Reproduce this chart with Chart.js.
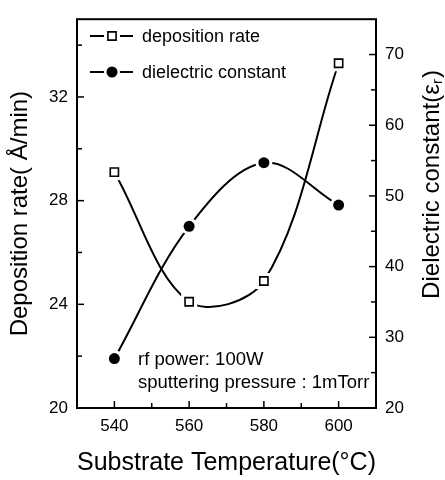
<!DOCTYPE html>
<html>
<head>
<meta charset="utf-8">
<script src="https://cdn.jsdelivr.net/npm/chart.js@4.4.0/dist/chart.umd.min.js"></script>
<style>
html, body { margin: 0; padding: 0; background: #fff; }
#wrap { width: 445px; height: 480px; }
</style>
</head>
<body>
<div id="wrap"><canvas id="chart" width="445" height="480"></canvas></div>
<script>
// values
const temperatures = [540, 560, 580, 600];
const depositionRate = [29.1, 24.1, 24.9, 33.3];
const dielectricConstant = [27.0, 45.7, 54.7, 48.7];

const xTicks = [540, 560, 580, 600];
const xMinor = [550, 570, 590];
const leftTicks = [20, 24, 28, 32];
const leftMinor = [22, 26, 30, 34];
const rightTicks = [20, 30, 40, 50, 60, 70];
const rightMinor = [25, 35, 45, 55, 65];

const seriesNames = ['deposition rate', 'dielectric constant'];
const notes = ['rf power: 100W', 'sputtering pressure : 1mTorr'];

const FONT = "'Liberation Sans', Arial, sans-serif";

const decorations = {
	id: 'decorations',
	afterDatasetsDraw(chart) {
		const ctx = chart.ctx;
		// white gap around each marker, then redraw the marker on top
		chart.data.datasets.forEach((ds, i) => {
			const meta = chart.getDatasetMeta(i);
			meta.data.forEach(pt => {
				ctx.save();
				ctx.fillStyle = '#fff';
				ctx.beginPath();
				if (ds.pointStyle === 'rect') {
					ctx.rect(pt.x - 8, pt.y - 8, 16, 16);
				} else {
					ctx.arc(pt.x, pt.y, 8.5, 0, Math.PI * 2);
				}
				ctx.fill();
				ctx.restore();
				pt.draw(ctx, chart.chartArea);
			});
		});
	},
	afterDraw(chart) {
		const ctx = chart.ctx;
		const a = chart.chartArea;
		const sx = chart.scales.x, sy = chart.scales.y, sy1 = chart.scales.y1;
		ctx.save();
		ctx.strokeStyle = '#000';
		ctx.lineWidth = 2;
		ctx.strokeRect(a.left, a.top, a.right - a.left, a.bottom - a.top);

		ctx.lineWidth = 1.5;
		const seg = (x1, y1, x2, y2) => {
			ctx.beginPath(); ctx.moveTo(x1, y1); ctx.lineTo(x2, y2); ctx.stroke();
		};
		xTicks.forEach(v => { const p = sx.getPixelForValue(v); seg(p, a.bottom, p, a.bottom - 7); });
		xMinor.forEach(v => { const p = sx.getPixelForValue(v); seg(p, a.bottom, p, a.bottom - 5); });
		leftTicks.forEach(v => { const p = sy.getPixelForValue(v); seg(a.left, p, a.left + 7, p); });
		leftMinor.forEach(v => { const p = sy.getPixelForValue(v); seg(a.left, p, a.left + 5, p); });
		rightTicks.forEach(v => { const p = sy1.getPixelForValue(v); seg(a.right, p, a.right - 7, p); });
		rightMinor.forEach(v => { const p = sy1.getPixelForValue(v); seg(a.right, p, a.right - 5, p); });

		// legend: line - marker - line
		const rows = [36, 72];
		chart.data.datasets.forEach((ds, i) => {
			const y = rows[i];
			ctx.lineWidth = 2;
			seg(90, y, 133, y);
			ctx.fillStyle = '#fff';
			ctx.beginPath();
			if (ds.pointStyle === 'rect') ctx.rect(104, y - 8, 16, 16);
			else ctx.arc(112, y, 8, 0, Math.PI * 2);
			ctx.fill();
			ctx.fillStyle = ds.pointBackgroundColor;
			ctx.strokeStyle = ds.pointBorderColor;
			ctx.lineWidth = ds.pointBorderWidth;
			Chart.helpers.drawPoint(ctx, {pointStyle: ds.pointStyle, radius: ds.pointRadius, rotation: 0, borderWidth: ds.pointBorderWidth}, 112, y);
			ctx.strokeStyle = '#000';
			ctx.fillStyle = '#000';
			ctx.font = '18px ' + FONT;
			ctx.textBaseline = 'middle';
			ctx.textAlign = 'left';
			ctx.fillText(seriesNames[i], 142, y + 1);
		});

		// process notes
		ctx.font = '18.5px ' + FONT;
		ctx.fillText(notes[0], 138, 360);
		ctx.fillText(notes[1], 138, 383);

		// right axis title with subscript
		ctx.translate(432, 185);
		ctx.rotate(-Math.PI / 2);
		const big = '24px ' + FONT, small = '15px ' + FONT;
		const t1 = 'Dielectric constant(\u03b5', t2 = 'r', t3 = ')';
		ctx.font = big; const w1 = ctx.measureText(t1).width, w3 = ctx.measureText(t3).width;
		ctx.font = small; const w2 = ctx.measureText(t2).width;
		let x0 = -(w1 + w2 + w3) / 2;
		ctx.textBaseline = 'middle';
		ctx.font = big; ctx.fillText(t1, x0, 0);
		ctx.font = small; ctx.fillText(t2, x0 + w1, 6);
		ctx.font = big; ctx.fillText(t3, x0 + w1 + w2 + 1, 0);
		ctx.restore();
	}
};

const tickFont = {family: FONT, size: 17};

new Chart(document.getElementById('chart').getContext('2d'), {
	type: 'line',
	data: {
		datasets: [
			{
				label: seriesNames[0],
				data: temperatures.map((t, i) => ({x: t, y: depositionRate[i]})),
				yAxisID: 'y',
				borderColor: '#000',
				borderWidth: 2,
				tension: 0.35,
				pointStyle: 'rect',
				pointRadius: 5.8,
				pointBorderWidth: 1.6,
				pointBackgroundColor: '#fff',
				pointBorderColor: '#000'
			},
			{
				label: seriesNames[1],
				data: temperatures.map((t, i) => ({x: t, y: dielectricConstant[i]})),
				yAxisID: 'y1',
				borderColor: '#000',
				borderWidth: 2,
				tension: 0.35,
				pointStyle: 'circle',
				pointRadius: 5.5,
				pointBorderWidth: 0,
				pointBackgroundColor: '#000',
				pointBorderColor: '#000'
			}
		]
	},
	options: {
		responsive: false,
		animation: false,
		layout: {padding: {top: 8, left: 0, right: 0, bottom: 0}},
		plugins: {legend: {display: false}, tooltip: {enabled: false}},
		scales: {
			x: {
				type: 'linear', min: 530, max: 610,
				grid: {display: false, drawTicks: false},
				border: {display: false},
				afterBuildTicks: s => { s.ticks = xTicks.map(v => ({value: v})); },
				ticks: {font: tickFont, color: '#000', padding: 8, maxRotation: 0},
				title: {display: true, text: 'Substrate Temperature(\u00b0C)', color: '#000', font: {family: FONT, size: 25}, padding: {top: 0, bottom: 2}},
				afterFit: s => { s.height = 72; }
			},
			y: {
				position: 'left', min: 20, max: 35,
				grid: {display: false, drawTicks: false},
				border: {display: false},
				afterBuildTicks: s => { s.ticks = leftTicks.map(v => ({value: v})); },
				ticks: {font: tickFont, color: '#000', padding: 9},
				title: {display: true, text: 'Deposition rate( \u00c5/min)', color: '#000', font: {family: FONT, size: 24}, padding: {top: 6, bottom: 0}},
				afterFit: s => { s.width = 77; }
			},
			y1: {
				position: 'right', min: 20, max: 75,
				grid: {display: false, drawTicks: false},
				border: {display: false},
				afterBuildTicks: s => { s.ticks = rightTicks.map(v => ({value: v})); },
				ticks: {font: tickFont, color: '#000', padding: 9},
				afterFit: s => { s.width = 69; }
			}
		}
	},
	plugins: [decorations]
});
</script>
</body>
</html>
